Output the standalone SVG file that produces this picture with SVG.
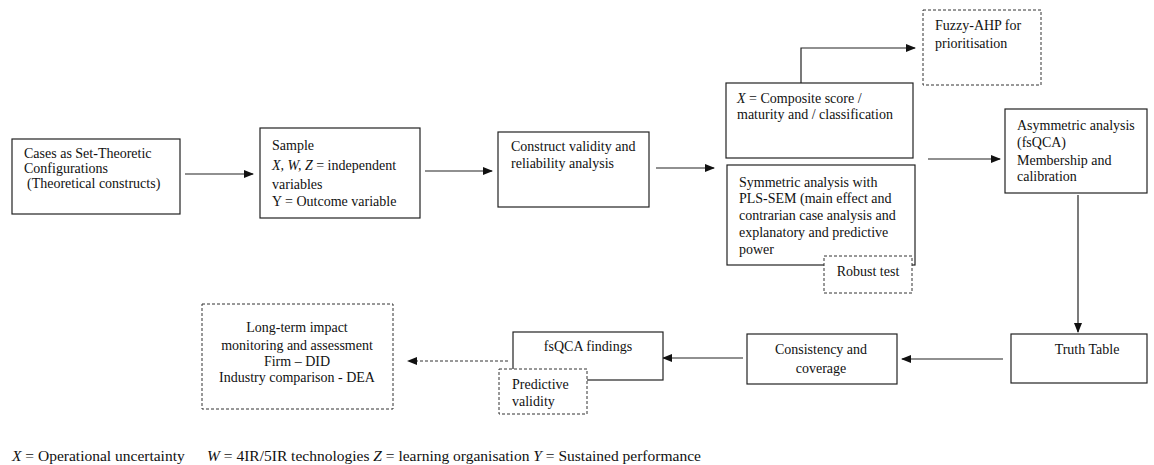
<svg xmlns="http://www.w3.org/2000/svg" width="1154" height="465" viewBox="0 0 1154 465">
<style>
.b{fill:#fff;stroke:#222;stroke-width:1.2}
.d{fill:#fff;stroke:#333;stroke-width:1;stroke-dasharray:3,2}
text{font-family:'Liberation Serif','DejaVu Serif',serif;font-size:14px;fill:#111}
.c{text-anchor:middle}
.f{font-size:15.5px}
.l{stroke:#222;stroke-width:1.2;fill:none}
.ld{stroke:#333;stroke-width:1;fill:none;stroke-dasharray:3,2}
</style>
<defs>
<marker id="a" markerWidth="10" markerHeight="8" refX="9" refY="4" orient="auto" markerUnits="userSpaceOnUse">
<path d="M0,0 L10,4 L0,8 z" fill="#111"/>
</marker>
</defs>
<rect width="1154" height="465" fill="#fff"/>
<g id="connectors">
<line class="l" x1="185" y1="174" x2="253" y2="174" marker-end="url(#a)"/>
<line class="l" x1="425" y1="171" x2="492" y2="171" marker-end="url(#a)"/>
<line class="l" x1="656" y1="168" x2="714" y2="168" marker-end="url(#a)"/>
<polyline class="l" points="801,83 801,48 915,48" marker-end="url(#a)"/>
<line class="l" x1="928" y1="159" x2="1000" y2="159" marker-end="url(#a)"/>
<line class="l" x1="1078" y1="195" x2="1078" y2="332" marker-end="url(#a)"/>
<line class="l" x1="1003" y1="359" x2="902" y2="359" marker-end="url(#a)"/>
<line class="l" x1="743" y1="358" x2="663" y2="358" marker-end="url(#a)"/>
<line class="ld" x1="508" y1="361" x2="408" y2="361" marker-end="url(#a)"/>
</g>
<g id="n-cases">
<rect class="b" x="12" y="139" width="168" height="75"/>
<text x="24" y="158">Cases as Set-Theoretic</text>
<text x="24" y="173">Configurations</text>
<text x="27" y="188">(Theoretical constructs)</text>
</g>
<g id="n-sample">
<rect class="b" x="260" y="128" width="160" height="90"/>
<text x="272" y="150">Sample</text>
<text x="272" y="170"><tspan font-style="italic">X, W, Z</tspan> = independent</text>
<text x="272" y="189">variables</text>
<text x="272" y="206">Y = Outcome variable</text>
</g>
<g id="n-construct">
<rect class="b" x="498" y="132" width="151" height="75"/>
<text x="511" y="151">Construct validity and</text>
<text x="511" y="168">reliability analysis</text>
</g>
<g id="n-composite">
<rect class="b" x="726" y="83" width="187" height="75"/>
<text x="737" y="103"><tspan font-style="italic">X</tspan> = Composite score /</text>
<text x="737" y="119">maturity and / classification</text>
</g>
<g id="n-fuzzy">
<rect class="d" x="923" y="10" width="118" height="75"/>
<text x="935" y="30">Fuzzy-AHP for</text>
<text x="935" y="48">prioritisation</text>
</g>
<g id="n-symmetric">
<rect class="b" x="727" y="165" width="188" height="100"/>
<text x="739" y="187">Symmetric analysis with</text>
<text x="739" y="203">PLS-SEM (main effect and</text>
<text x="739" y="220">contrarian case analysis and</text>
<text x="739" y="237">explanatory and predictive</text>
<text x="739" y="254">power</text>
</g>
<g id="n-robust">
<rect class="d" x="824" y="256" width="88" height="37"/>
<text class="c" x="868" y="276">Robust test</text>
</g>
<g id="n-asymmetric">
<rect class="b" x="1005" y="109" width="142" height="84"/>
<text x="1017" y="130">Asymmetric analysis</text>
<text x="1017" y="147">(fsQCA)</text>
<text x="1017" y="165">Membership and</text>
<text x="1017" y="181">calibration</text>
</g>
<g id="n-truth">
<rect class="b" x="1011" y="334" width="136" height="49"/>
<text class="c" x="1087" y="354">Truth Table</text>
</g>
<g id="n-consistency">
<rect class="b" x="747" y="334" width="150" height="50"/>
<text class="c" x="821" y="354">Consistency and</text>
<text class="c" x="821" y="373">coverage</text>
</g>
<g id="n-findings">
<rect class="b" x="513" y="332" width="150" height="48"/>
<text class="c" x="588" y="351">fsQCA findings</text>
</g>
<g id="n-predictive">
<rect class="d" x="499" y="369" width="88" height="45"/>
<text x="512" y="389">Predictive</text>
<text x="512" y="406">validity</text>
</g>
<g id="n-longterm">
<rect class="d" x="202" y="304" width="191" height="105"/>
<text class="c" x="297" y="332">Long-term impact</text>
<text class="c" x="297" y="350">monitoring and assessment</text>
<text class="c" x="297" y="366">Firm – DID</text>
<text class="c" x="297" y="382">Industry comparison - DEA</text>
</g>
<g id="legend">
<text class="f" x="12" y="461"><tspan font-style="italic">X</tspan> = Operational uncertainty</text>
<text class="f" x="207" y="461"><tspan font-style="italic">W</tspan> = 4IR/5IR technologies <tspan font-style="italic">Z</tspan> = learning organisation <tspan font-style="italic">Y</tspan> = Sustained performance</text>
</g>
</svg>
